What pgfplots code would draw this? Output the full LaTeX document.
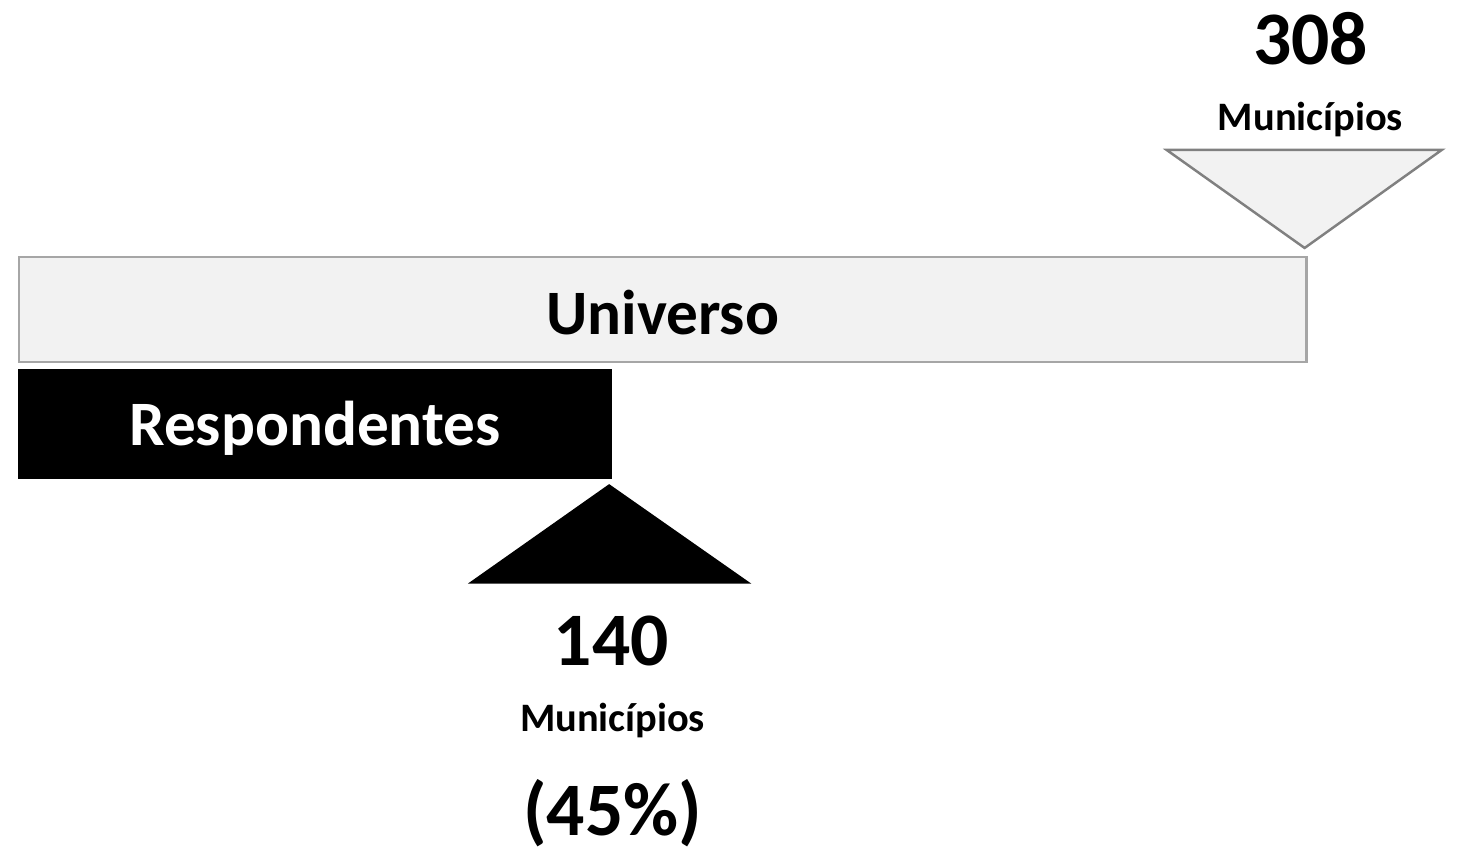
\documentclass[border=0pt]{standalone}
\usepackage{pgfplots}
\pgfplotsset{compat=1.18}
\usepackage{fontspec}
\setmainfont{Carlito}
\definecolor{barfill}{HTML}{F2F2F2}
\definecolor{barline}{HTML}{A6A6A6}
\definecolor{triline}{HTML}{808080}
\begin{document}
\begin{tikzpicture}
\begin{axis}[
    width=14.58cm, height=8.49cm,
    scale only axis,
    hide axis,
    clip=false,
    % x in municipalities, y in picture units (0 at bottom, 849 at top)
    xmin=-4.55, xmax=344.3,
    ymin=0, ymax=849,
]
% Universo
\addplot[xbar, bar shift=0pt, bar width=10.5mm, fill=barfill, draw=barline, line width=0.7pt]
    coordinates {(308,539.5)};
% Respondentes
\addplot[xbar, bar shift=0pt, bar width=10.8mm, fill=black, draw=black]
    coordinates {(141.7,425)};
% markers
\addplot[sharp plot, mark=none, fill=barfill, draw=triline, line width=0.7pt]
    coordinates {(274.6,699) (340.4,699) (307.6,601)} -- cycle;
\addplot[sharp plot, mark=none, fill=black, draw=black]
    coordinates {(107.9,266) (174.7,266) (141.2,364)} -- cycle;

\node[font=\bfseries\fontsize{18}{22}\selectfont] at (axis cs:154,536) {Universo};
\node[font=\bfseries\fontsize{18}{22}\selectfont, text=white] at (axis cs:70.8,421) {Respondentes};

\node[font=\bfseries\fontsize{21.5}{26}\selectfont] at (axis cs:309,810) {308};
\node[font=\bfseries\fontsize{11.5}{14}\selectfont] at (axis cs:309,729) {Municípios};

\node[font=\bfseries\fontsize{21.5}{26}\selectfont] at (axis cs:141.7,208) {140};
\node[font=\bfseries\fontsize{11.5}{14}\selectfont] at (axis cs:142,128) {Municípios};
\node[font=\bfseries\fontsize{21.5}{26}\selectfont] at (axis cs:142,36) {(45\%)};
\end{axis}
\pgfresetboundingbox
\path (current axis.south west) rectangle (current axis.north east);
\end{tikzpicture}
\end{document}
